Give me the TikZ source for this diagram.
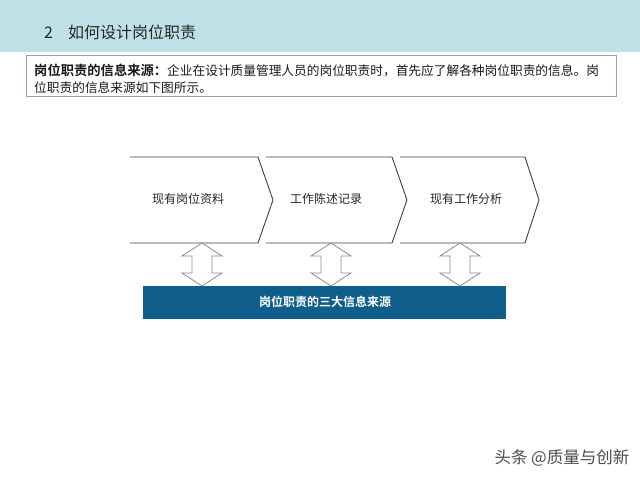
\documentclass[tikz,border=0pt]{standalone}
\usepackage{fontspec}
\setmainfont{Noto Sans CJK SC}
\newfontfamily\cjkb{Noto Sans CJK SC Bold}
\begin{document}
\begin{tikzpicture}[x=1pt,y=-1pt,
  chev/.style={draw=black!75, line width=0.9pt},
  lbl/.style={font=\fontsize{12}{14}\selectfont, text=black!85},
  arrowline/.style={draw=black!45, line width=0.8pt, fill=white},
  dbl/.pic={\path[arrowline] (0,0) -- (20,13) -- (10,13) -- (10,30) -- (20,30) -- (0,43) -- (-20,30) -- (-10,30) -- (-10,13) -- (-20,13) -- cycle;}]
\useasboundingbox (0,0) rectangle (640,480);
\fill[white] (0,0) rectangle (640,480);
% header band
\fill[fill={rgb,255:red,189;green,225;blue,228}] (0,0) rectangle (640,52);
\node[anchor=west, inner sep=0pt, font=\fontsize{16}{18}\selectfont, text=black!85] (title) at (44,32) {2\hspace{15pt}如何设计岗位职责};
% info box
\draw[draw={rgb,255:red,140;green,165;blue,185}, line width=0.8pt, fill=white] (26,55) rectangle (616,96);
\node[anchor=west, inner sep=0pt, text=black!90, font=\fontsize{12.7}{14}\selectfont] (info1) at (34,70)
  {{\cjkb\fontsize{13.3}{14}\selectfont 岗位职责的信息来源：}企业在设计质量管理人员的岗位职责时，首先应了解各种岗位职责的信息。岗};
\node[anchor=west, inner sep=0pt, text=black!90, font=\fontsize{12.7}{14}\selectfont] (info2) at (34,88)
  {位职责的信息来源如下图所示。};
% chevrons
\path[chev] (130,157) -- (258,157) -- (273,200) -- (258,243) -- (130,243);
\path[chev] (266,157) -- (392,157) -- (407,200) -- (392,243) -- (266,243);
\path[chev] (400,157) -- (525,157) -- (539,200) -- (525,243) -- (400,243);
\node[lbl] (c1) at (188,199) {现有岗位资料};
\node[lbl] (c2) at (326,199) {工作陈述记录};
\node[lbl] (c3) at (466,199) {现有工作分析};
% bar
\fill[fill={rgb,255:red,16;green,94;blue,140}] (143,286) rectangle (506,319);
\node[text=white, font=\cjkb\fontsize{12}{14}\selectfont] (bar) at (325,302) {岗位职责的三大信息来源};
% double arrows
\pic at (202,243) {dbl};
\pic at (331,243) {dbl};
\pic at (460,243) {dbl};
% watermark
\node[anchor=west, text=black!70, font=\fontsize{16.5}{18}\selectfont] (wm) at (491,458) {头条 @质量与创新};
\end{tikzpicture}
\end{document}
